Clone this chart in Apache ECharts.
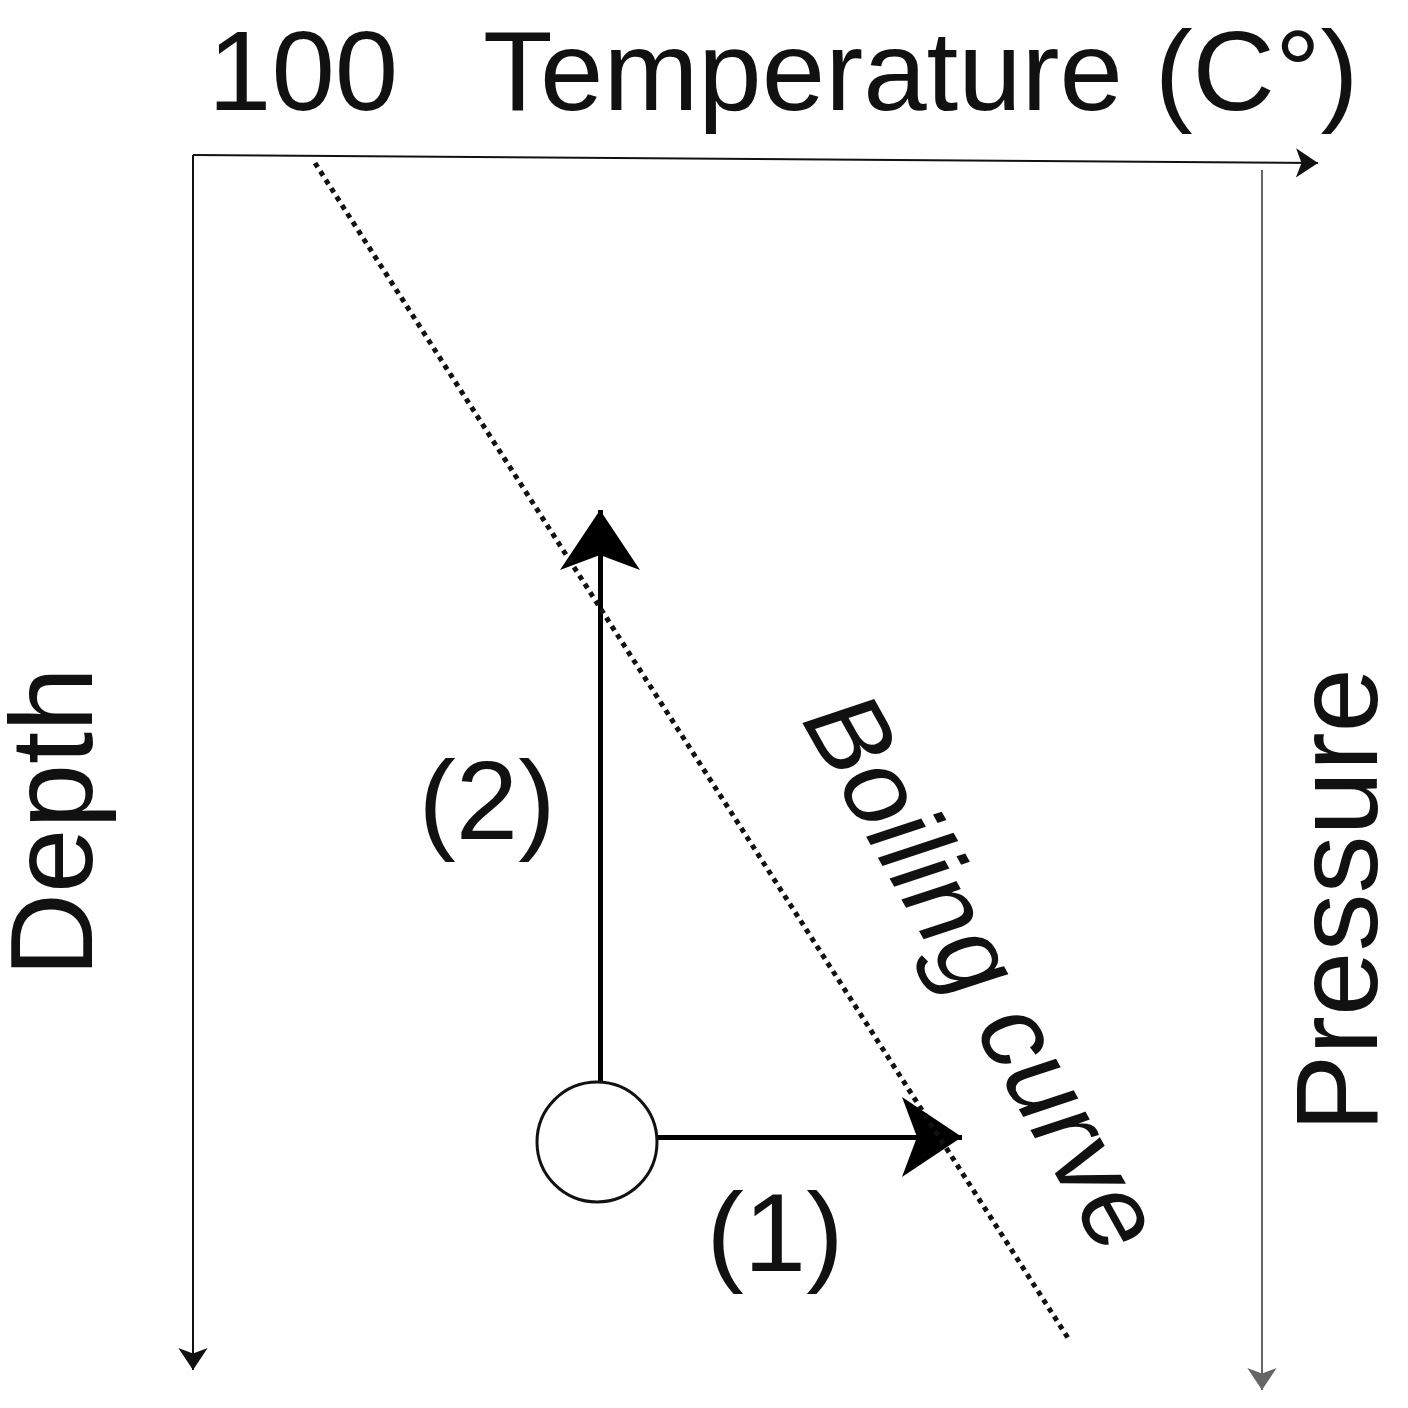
<!DOCTYPE html>
<html><head><meta charset="utf-8">
<script src="https://cdn.jsdelivr.net/npm/echarts@6/dist/echarts.min.js"></script>
<style>html,body{margin:0;background:#fff}#main{width:1408px;height:1408px}</style>
</head><body><div id="main"></div>
<script>
// schematic coordinates (pixel-like units, y downward)
var boilingCurve = [[315, 163], [1068, 1338]];
var tempAxis = [[193, 155], [1318, 163]];
var depthAxis = [[193, 155], [193, 1370]];
var pressureAxis = [[1262, 170], [1262, 1390]];
var path2 = [[600, 1082], [600, 510]];
var path1 = [[657, 1137], [962, 1137]];
var startPoint = [[597, 1142]];

var myChart = echarts.init(document.getElementById('main'));
var font = 'Liberation Sans, Arial, sans-serif';
function arrowLine(c, w, col, size) {
    return { coords: c, lineStyle: { width: w, color: col, opacity: 1 }, symbolSize: size };
}
myChart.setOption({
    animation: false,
    grid: { left: 0, right: 0, top: 0, bottom: 0 },
    xAxis: { type: 'value', min: 0, max: 1408, show: false },
    yAxis: { type: 'value', min: 0, max: 1408, inverse: true, show: false },
    series: [
        {
            type: 'line', data: boilingCurve, symbol: 'none',
            lineStyle: { type: [5, 5], width: 5, color: '#111' }
        },
        {
            type: 'lines', coordinateSystem: 'cartesian2d',
            symbol: ['none', 'arrow'],
            data: [
                arrowLine(tempAxis, 2, '#111', [14, 22]),
                arrowLine(depthAxis, 2, '#111', [14, 22]),
                arrowLine(pressureAxis, 2, '#666', [14, 22]),
                arrowLine(path2, 5, '#000', [50, 60]),
                arrowLine(path1, 5, '#000', [50, 60])
            ]
        },
        {
            type: 'scatter', data: startPoint, symbolSize: 120,
            itemStyle: { color: '#fff', borderColor: '#111', borderWidth: 3, opacity: 1 }
        }
    ],
    graphic: [
        { type: 'text', x: 208, y: 22, style: { text: '100', font: '114px ' + font, fill: '#111' } },
        { type: 'text', x: 483, y: 22, style: { text: 'Temperature (C°)', font: '114px ' + font, fill: '#111' } },
        { type: 'text', x: 60, y: 822, rotation: Math.PI / 2, style: { text: 'Depth', font: '116px ' + font, fill: '#111', align: 'center', verticalAlign: 'middle' } },
        { type: 'text', x: 1345, y: 900, rotation: Math.PI / 2, style: { text: 'Pressure', font: '116px ' + font, fill: '#111', align: 'center', verticalAlign: 'middle' } },
        { type: 'text', x: 978, y: 975, rotation: -1.06, style: { text: 'Boiling curve', font: 'italic 108px ' + font, fill: '#111', align: 'center', verticalAlign: 'middle' } },
        { type: 'text', x: 487, y: 808, style: { text: '(2)', font: '112px ' + font, fill: '#111', align: 'center', verticalAlign: 'middle' } },
        { type: 'text', x: 775, y: 1240, style: { text: '(1)', font: '112px ' + font, fill: '#111', align: 'center', verticalAlign: 'middle' } }
    ]
});
</script></body></html>
